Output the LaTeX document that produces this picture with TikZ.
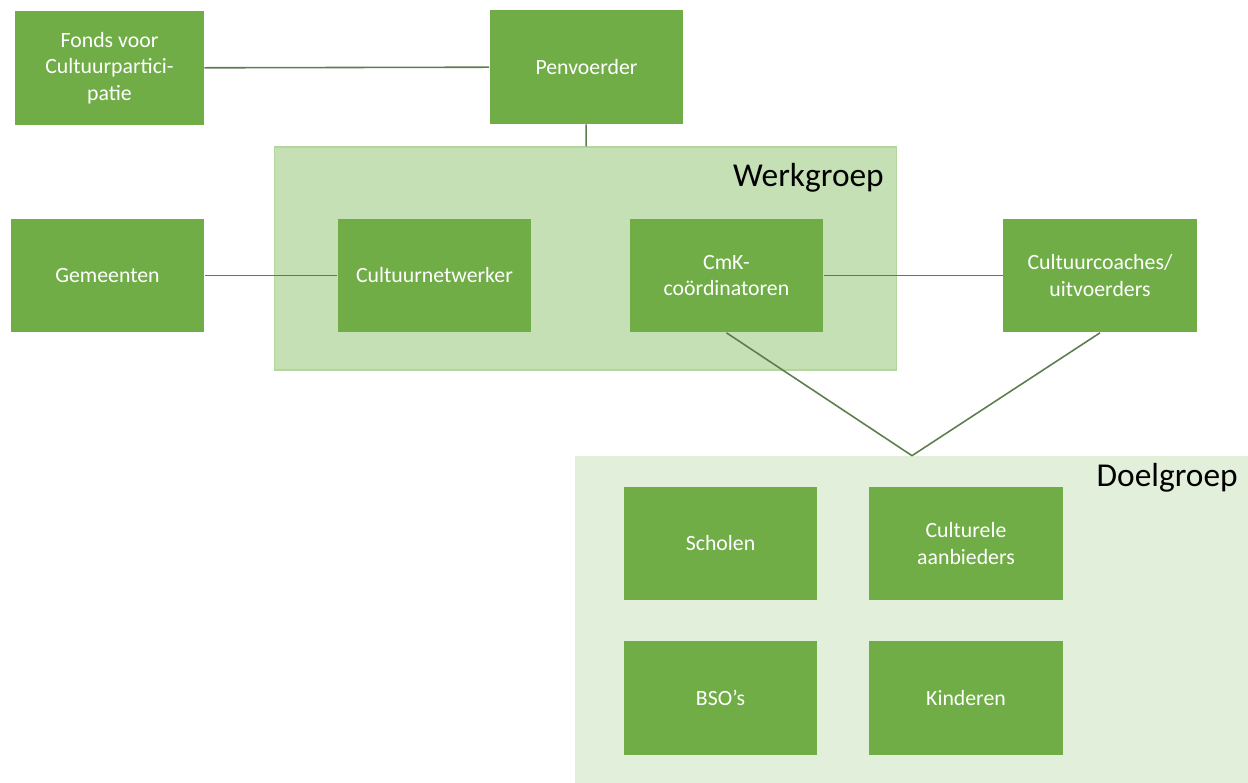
\documentclass[tikz,border=0pt]{standalone}
\usepackage{fontspec}
\setmainfont{Carlito}
\usepackage{tikz}

\definecolor{boxgreen}{HTML}{70AD47}
\definecolor{werkfill}{HTML}{C5E0B4}
\definecolor{werkline}{HTML}{B2D69B}
\definecolor{doelfill}{HTML}{E2EFDA}
\definecolor{linkcol}{HTML}{5E7D4E}

\begin{document}
\begin{tikzpicture}
  [x = 0.02cm, y = -0.02cm,
   box/.style = {fill=boxgreen, text=white, align=center, inner sep=0pt,
                 minimum width=3.88cm, minimum height=2.28cm,
                 font=\fontsize{12.4}{15}\selectfont},
   group/.style = {inner sep=0pt},
   grouptitle/.style = {font=\fontsize{19}{22}\selectfont, inner sep=0pt},
   link/.style = {draw=linkcol, line width=0.9pt}]
    \useasboundingbox (0,0) rectangle (1248,783);

    % groepen
    \node[group, fill=werkfill, draw=werkline, line width=0.6pt,
          minimum width=12.46cm, minimum height=4.46cm] (werk) at (585.5,258.5) {};
    \node[group, fill=doelfill, minimum width=13.5cm, minimum height=6.6cm] (doel) at (912,621) {};
    \node[grouptitle, anchor=base east] (wtitel) at (884,187) {Werkgroep};
    \node[grouptitle, anchor=base east] (dtitel) at (1238,487) {Doelgroep};

    \node[box, minimum width=3.78cm] (fonds) at (109.5,68) {Fonds voor\\Cultuurpartici-\\patie};
    \node[box] (penv) at (586.5,67) {Penvoerder};

    \node[box] (gem) at (107.5,275.5) {Gemeenten};
    \node[box] (cnw) at (434.5,275.5) {Cultuurnetwerker};
    \node[box] (cmk) at (726.5,275.5) {CmK-\\coördinatoren};
    \node[box] (coach) at (1100,275.5) {Cultuurcoaches/\\uitvoerders};

    \node[box] (scholen) at (720.5,543.5) {Scholen};
    \node[box] (aanb) at (966,543.5) {Culturele\\aanbieders};
    \node[box] (bso) at (720.5,698) {BSO’s};
    \node[box] (kind) at (966,698) {Kinderen};

    \draw[link] (fonds) -- (penv);
    \draw[link] (penv) -- (werk);
    \draw[link] (gem) -- (cnw);
    \draw[link] (cmk) -- (coach);
    \draw[link] (cmk.south) -- (doel.north);
    \draw[link] (coach.south) -- (doel.north);
  \end{tikzpicture}
\end{document}
